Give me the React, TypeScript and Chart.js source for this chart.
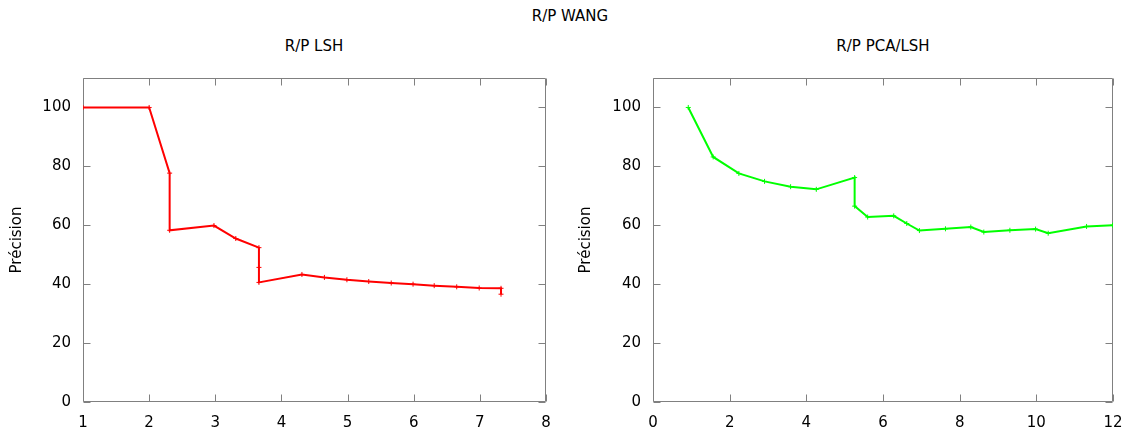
import React, { useEffect, useRef } from "react";
import { Chart, registerables } from "chart.js";

Chart.register(...registerables);

const mainTitle = "R/P WANG";
const leftTitle = "R/P LSH";
const rightTitle = "R/P PCA/LSH";
const yAxisLabel = "Précision";

const lshRecall = [1, 2, 2.31, 2.31, 2.98, 3.31, 3.66, 3.66, 3.66, 4.31, 4.65, 4.99, 5.32, 5.66, 5.99, 6.31, 6.65, 6.99, 7.32, 7.32];
const lshPrecision = [100, 100, 77.7, 58.3, 59.9, 55.5, 52.4, 45.7, 40.6, 43.3, 42.3, 41.5, 40.9, 40.4, 40.0, 39.5, 39.1, 38.7, 38.6, 36.6];

const pcaRecall = [0.92, 1.57, 2.24, 2.91, 3.59, 4.26, 5.26, 5.26, 5.6, 6.28, 6.62, 6.95, 7.63, 8.29, 8.63, 9.31, 9.98, 10.31, 11.31, 11.99];
const pcaPrecision = [100, 83.2, 77.6, 74.9, 73.1, 72.2, 76.2, 66.5, 62.8, 63.2, 60.6, 58.2, 58.8, 59.4, 57.7, 58.3, 58.7, 57.3, 59.6, 60.0];

const yRange = [0, 110];
const yStep = 20;
const lshXRange = [1, 8];
const lshXStep = 1;
const pcaXRange = [0, 12];
const pcaXStep = 2;

const FONT = "'DejaVu Sans', sans-serif";
const FRAME = "#808080";

const framePlugin = {
  id: "gnuplotFrame",
  beforeDatasetsDraw(chart: any) {
    const { ctx, chartArea } = chart;
    const { left, right, top, bottom } = chartArea;
    const xs = chart.scales.x;
    const ys = chart.scales.y;
    const L = Math.round(left) + 0.5;
    const R = Math.round(right) - 0.5;
    const T = Math.round(top) + 0.5;
    const B = Math.round(bottom) - 0.5;
    const tl = 7;
    ctx.save();
    ctx.strokeStyle = FRAME;
    ctx.lineWidth = 1;
    ctx.beginPath();
    ctx.rect(L, T, R - L, B - T);
    for (const t of xs.ticks) {
      const px = Math.round(xs.getPixelForValue(t.value)) + 0.5;
      ctx.moveTo(px, B);
      ctx.lineTo(px, B - tl);
      ctx.moveTo(px, T);
      ctx.lineTo(px, T + tl);
    }
    for (const t of ys.ticks) {
      const py = Math.round(ys.getPixelForValue(t.value)) + 0.5;
      ctx.moveTo(L, py);
      ctx.lineTo(L + tl, py);
      ctx.moveTo(R, py);
      ctx.lineTo(R - tl, py);
    }
    ctx.stroke();
    ctx.restore();
  },
};

function PlotCanvas(props: {
  xs: number[];
  ys: number[];
  color: string;
  xRange: number[];
  xStep: number;
  width: number;
  axisWidth: number;
  rightPad: number;
  titlePadTop: number;
}) {
  const ref = useRef<HTMLCanvasElement>(null);
  useEffect(() => {
    const data = props.xs.map((x, i) => ({ x, y: props.ys[i] }));
    const chart = new Chart(ref.current as HTMLCanvasElement, {
      type: "line",
      data: {
        datasets: [
          {
            data,
            borderColor: props.color,
            backgroundColor: props.color,
            borderWidth: 2,
            pointStyle: "cross",
            pointRadius: 2.5,
            pointBorderWidth: 1,
            pointBorderColor: props.color,
            fill: false,
            tension: 0,
          },
        ],
      },
      options: {
        animation: false,
        responsive: false,
        devicePixelRatio: 1,
        layout: { padding: { top: 78, right: props.rightPad, bottom: 0, left: 0 } },
        plugins: { legend: { display: false }, tooltip: { enabled: false }, title: { display: false } },
        scales: {
          x: {
            type: "linear",
            min: props.xRange[0],
            max: props.xRange[1],
            border: { display: false },
            grid: { display: false, drawTicks: false },
            ticks: {
              stepSize: props.xStep,
              includeBounds: false,
              padding: 12,
              color: "#000",
              font: { family: FONT, size: 15 },
              maxRotation: 0,
            },
            afterFit: (s: any) => {
              s.height = 28;
              s.paddingLeft = 0;
              s.paddingRight = 0;
            },
          },
          y: {
            type: "linear",
            min: yRange[0],
            max: yRange[1],
            border: { display: false },
            grid: { display: false, drawTicks: false },
            ticks: {
              stepSize: yStep,
              includeBounds: false,
              padding: 12,
              color: "#000",
              font: { family: FONT, size: 15 },
            },
            title: {
              display: true,
              text: yAxisLabel,
              color: "#000",
              font: { family: FONT, size: 15 },
              padding: { top: props.titlePadTop, bottom: 0 },
            },
            afterFit: (s: any) => {
              s.width = props.axisWidth;
              s.paddingTop = 0;
              s.paddingBottom = 0;
            },
          },
        },
      },
      plugins: [framePlugin],
    } as any);
    return () => chart.destroy();
  }, []);
  return <canvas ref={ref} width={props.width} height={430} style={{ display: "block", width: props.width, height: 430 }} />;
}

const textStyle: React.CSSProperties = {
  position: "absolute",
  fontFamily: FONT,
  fontSize: 15,
  lineHeight: "18px",
  color: "#000",
  transform: "translateX(-50%)",
  whiteSpace: "nowrap",
};

export default function App() {
  return (
    <div style={{ position: "fixed", left: 0, top: 0, width: 1127, height: 430, background: "#fff", overflow: "hidden" }}>
      <div style={{ ...textStyle, left: 570, top: 7 }}>{mainTitle}</div>
      <div style={{ ...textStyle, left: 314, top: 37 }}>{leftTitle}</div>
      <div style={{ ...textStyle, left: 883, top: 37 }}>{rightTitle}</div>
      <div style={{ position: "absolute", left: 0, top: 0 }}>
        <PlotCanvas xs={lshRecall} ys={lshPrecision} color="#ff0000" xRange={lshXRange} xStep={lshXStep} width={563} axisWidth={83} rightPad={17} titlePadTop={8} />
      </div>
      <div style={{ position: "absolute", left: 563, top: 0 }}>
        <PlotCanvas xs={pcaRecall} ys={pcaPrecision} color="#00ff00" xRange={pcaXRange} xStep={pcaXStep} width={564} axisWidth={90} rightPad={14} titlePadTop={14} />
      </div>
    </div>
  );
}
